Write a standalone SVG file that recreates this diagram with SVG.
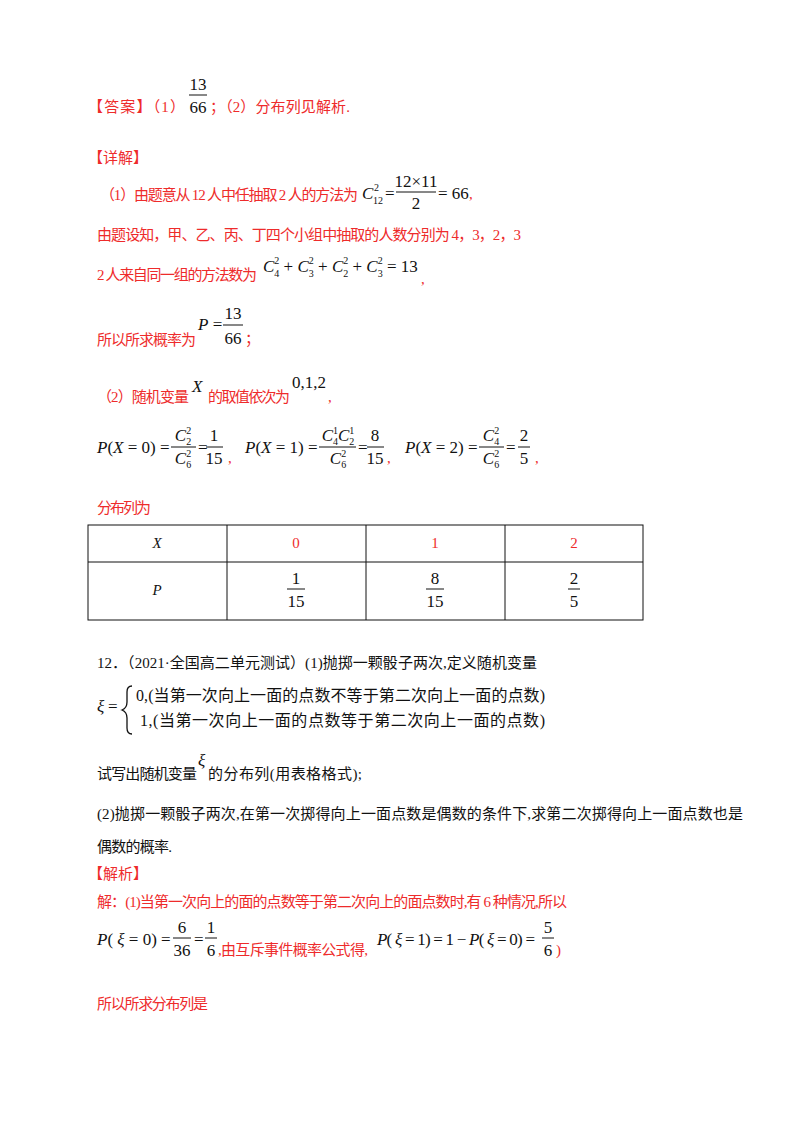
<svg xmlns="http://www.w3.org/2000/svg" width="800" height="1132" viewBox="0 0 800 1132">
<style>
.r{fill:#ee2b2b;font-family:"Liberation Serif","Noto Sans CJK SC",serif;font-size:15px}
.k{fill:#111;font-family:"Liberation Serif","Noto Sans CJK SC",serif;font-size:15px}
.m{fill:#111;font-family:"Liberation Serif",serif;font-size:17px}
.s{font-size:10px}
.i{font-style:italic}
.c{text-anchor:middle}
.fl{stroke:#111;stroke-width:1}
.tb{fill:none;stroke:#111;stroke-width:1}
</style>
<rect width="800" height="1132" fill="#fff"/>
<text class="r" x="88" y="112" textLength="97" lengthAdjust="spacing">【答案】（1）</text>
<text class="m c" x="198" y="90">13</text><line class="fl" x1="189" y1="95" x2="207" y2="95"/><text class="m c" x="198" y="113">66</text>
<text class="r" x="210" y="112" textLength="140" lengthAdjust="spacing">；（2）分布列见解析.</text>
<text class="r" x="88" y="163" textLength="60" lengthAdjust="spacing">【详解】</text>
<text class="r" x="100" y="200" textLength="258" lengthAdjust="spacing">（1）由题意从 12 人中任抽取 2 人的方法为</text>
<text class="m" x="362" y="199"><tspan class="i">C</tspan></text><text class="m s" x="374" y="191">2</text><text class="m s" x="373" y="204">12</text>
<text class="m" x="385" y="199">=</text>
<text class="m c" x="416" y="187">12×11</text><line class="fl" x1="396" y1="192" x2="436" y2="192"/><text class="m c" x="416" y="209">2</text>
<text class="m" x="438" y="199">= 66</text><text class="r" x="469" y="199">,</text>
<text class="r" x="97" y="240" textLength="424" lengthAdjust="spacing">由题设知，甲、乙、丙、丁四个小组中抽取的人数分别为 4，3，2，3</text>
<text class="r" x="97" y="280" textLength="160" lengthAdjust="spacing">2 人来自同一组的方法数为</text>
<text class="m" x="263" y="272"><tspan class="i">C</tspan><tspan class="s" dy="-8">2</tspan><tspan class="s" dx="-5" dy="13">4</tspan><tspan dy="-5"> + </tspan><tspan class="i">C</tspan><tspan class="s" dy="-8">2</tspan><tspan class="s" dx="-5" dy="13">3</tspan><tspan dy="-5"> + </tspan><tspan class="i">C</tspan><tspan class="s" dy="-8">2</tspan><tspan class="s" dx="-5" dy="13">2</tspan><tspan dy="-5"> + </tspan><tspan class="i">C</tspan><tspan class="s" dy="-8">2</tspan><tspan class="s" dx="-5" dy="13">3</tspan><tspan dy="-5"> = 13</tspan></text>
<text class="r" x="421" y="284">,</text>
<text class="r" x="97" y="345" textLength="99" lengthAdjust="spacing">所以所求概率为</text>
<text class="m" x="198" y="330"><tspan class="i">P</tspan> =</text>
<text class="m c" x="233" y="319">13</text><line class="fl" x1="223" y1="325" x2="243" y2="325"/><text class="m c" x="233" y="344">66</text>
<text class="r" x="245" y="344">；</text>
<text class="r" x="97" y="402" textLength="92" lengthAdjust="spacing">（2）随机变量</text>
<text class="m i" x="192" y="392">X</text>
<text class="r" x="208" y="402" textLength="82" lengthAdjust="spacing">的取值依次为</text>
<text class="m" x="292" y="388">0,1,2</text>
<text class="r" x="328" y="402">,</text>
<g class="m">
<text x="97" y="453"><tspan class="i">P</tspan>(<tspan class="i">X</tspan> = 0) =</text>
<text class="c" x="183" y="441"><tspan class="i">C</tspan><tspan class="s" dy="-7">2</tspan><tspan class="s" dx="-5" dy="11">2</tspan></text>
<line class="fl" x1="171" y1="447" x2="196" y2="447"/>
<text class="c" x="183" y="464"><tspan class="i">C</tspan><tspan class="s" dy="-7">2</tspan><tspan class="s" dx="-5" dy="11">6</tspan></text>
<text x="198" y="453">=</text>
<text class="c" x="214" y="441">1</text><line class="fl" x1="206" y1="447" x2="223" y2="447"/><text class="c" x="214" y="464">15</text>
<text x="245" y="453"><tspan class="i">P</tspan>(<tspan class="i">X</tspan> = 1) =</text>
<text class="c" x="338" y="441"><tspan class="i">C</tspan><tspan class="s" dy="-7">1</tspan><tspan class="s" dx="-5" dy="11">4</tspan><tspan class="i" dy="-4">C</tspan><tspan class="s" dy="-7">1</tspan><tspan class="s" dx="-5" dy="11">2</tspan></text>
<line class="fl" x1="319" y1="447" x2="356" y2="447"/>
<text class="c" x="338" y="464"><tspan class="i">C</tspan><tspan class="s" dy="-7">2</tspan><tspan class="s" dx="-5" dy="11">6</tspan></text>
<text x="358" y="453">=</text>
<text class="c" x="375" y="441">8</text><line class="fl" x1="367" y1="447" x2="384" y2="447"/><text class="c" x="375" y="464">15</text>
<text x="405" y="453"><tspan class="i">P</tspan>(<tspan class="i">X</tspan> = 2) =</text>
<text class="c" x="491" y="441"><tspan class="i">C</tspan><tspan class="s" dy="-7">2</tspan><tspan class="s" dx="-5" dy="11">4</tspan></text>
<line class="fl" x1="479" y1="447" x2="504" y2="447"/>
<text class="c" x="491" y="464"><tspan class="i">C</tspan><tspan class="s" dy="-7">2</tspan><tspan class="s" dx="-5" dy="11">6</tspan></text>
<text x="506" y="453">=</text>
<text class="c" x="524" y="441">2</text><line class="fl" x1="518" y1="447" x2="530" y2="447"/><text class="c" x="524" y="464">5</text>
</g>
<text class="r" x="228" y="463">,</text><text class="r" x="387" y="463">,</text><text class="r" x="535" y="463">,</text>
<text class="r" x="97" y="513" textLength="54" lengthAdjust="spacing">分布列为</text>
<g id="table">
<rect class="tb" x="88" y="525" width="555" height="95"/>
<line class="tb" x1="88" y1="562" x2="643" y2="562"/>
<line class="tb" x1="227" y1="525" x2="227" y2="620"/>
<line class="tb" x1="366" y1="525" x2="366" y2="620"/>
<line class="tb" x1="505" y1="525" x2="505" y2="620"/>
<text class="k i c" x="157" y="548">X</text>
<text class="r c" x="296" y="548">0</text><text class="r c" x="435" y="548">1</text><text class="r c" x="574" y="548">2</text>
<text class="k i c" x="157" y="595">P</text>
<text class="m c" x="296" y="584">1</text><line class="fl" x1="287" y1="589" x2="305" y2="589"/><text class="m c" x="296" y="607">15</text>
<text class="m c" x="435" y="584">8</text><line class="fl" x1="426" y1="589" x2="444" y2="589"/><text class="m c" x="435" y="607">15</text>
<text class="m c" x="574" y="584">2</text><line class="fl" x1="568" y1="589" x2="580" y2="589"/><text class="m c" x="574" y="607">5</text>
</g>
<text class="k" x="97" y="668" textLength="440" lengthAdjust="spacing">12．（2021·全国高二单元测试）(1)抛掷一颗骰子两次,定义随机变量</text>
<text class="m i" x="97" y="712">ξ</text><text class="m" x="108" y="712">=</text>
<path d="M132,686 q-5,0 -5,6 v10 q0,6 -5,8 q5,2 5,8 v10 q0,6 5,6" fill="none" stroke="#111" stroke-width="1.3"/>
<text class="k" x="136" y="701" style="font-size:16px" textLength="409" lengthAdjust="spacing">0,(当第一次向上一面的点数不等于第二次向上一面的点数)</text>
<text class="k" x="140" y="726" style="font-size:16px" textLength="405" lengthAdjust="spacing">1,(当第一次向上一面的点数等于第二次向上一面的点数)</text>
<text class="k" x="97" y="779" textLength="100" lengthAdjust="spacing">试写出随机变量</text>
<text class="m i" x="198" y="766">ξ</text>
<text class="k" x="208" y="779" textLength="154" lengthAdjust="spacing">的分布列(用表格格式);</text>
<text class="k" x="97" y="819" textLength="646" lengthAdjust="spacing">(2)抛掷一颗骰子两次,在第一次掷得向上一面点数是偶数的条件下,求第二次掷得向上一面点数也是</text>
<text class="k" x="97" y="852" textLength="75" lengthAdjust="spacing">偶数的概率.</text>
<text class="r" x="88" y="879" textLength="60" lengthAdjust="spacing">【解析】</text>
<text class="r" x="97" y="907" textLength="470" lengthAdjust="spacing">解：(1)当第一次向上的面的点数等于第二次向上的面点数时,有 6 种情况,所以</text>
<g class="m">
<text x="97" y="945"><tspan class="i">P</tspan>( <tspan class="i">ξ</tspan> = 0) =</text>
<text class="c" x="182" y="933">6</text><line class="fl" x1="173" y1="938" x2="191" y2="938"/><text class="c" x="182" y="956">36</text>
<text x="194" y="945">=</text>
<text class="c" x="211" y="933">1</text><line class="fl" x1="205" y1="938" x2="217" y2="938"/><text class="c" x="211" y="956">6</text>
<text x="377" y="945" textLength="158" lengthAdjust="spacing"><tspan class="i">P</tspan>( <tspan class="i">ξ</tspan> = 1) = 1 − <tspan class="i">P</tspan>( <tspan class="i">ξ</tspan> = 0) =</text>
<text class="c" x="548" y="933">5</text><line class="fl" x1="542" y1="938" x2="554" y2="938"/><text class="c" x="548" y="956">6</text>
</g>
<text class="r" x="218" y="955" textLength="150" lengthAdjust="spacing">,由互斥事件概率公式得,</text>
<text class="r" x="556" y="955">)</text>
<text class="r" x="97" y="1009" textLength="111" lengthAdjust="spacing">所以所求分布列是</text>
</svg>
